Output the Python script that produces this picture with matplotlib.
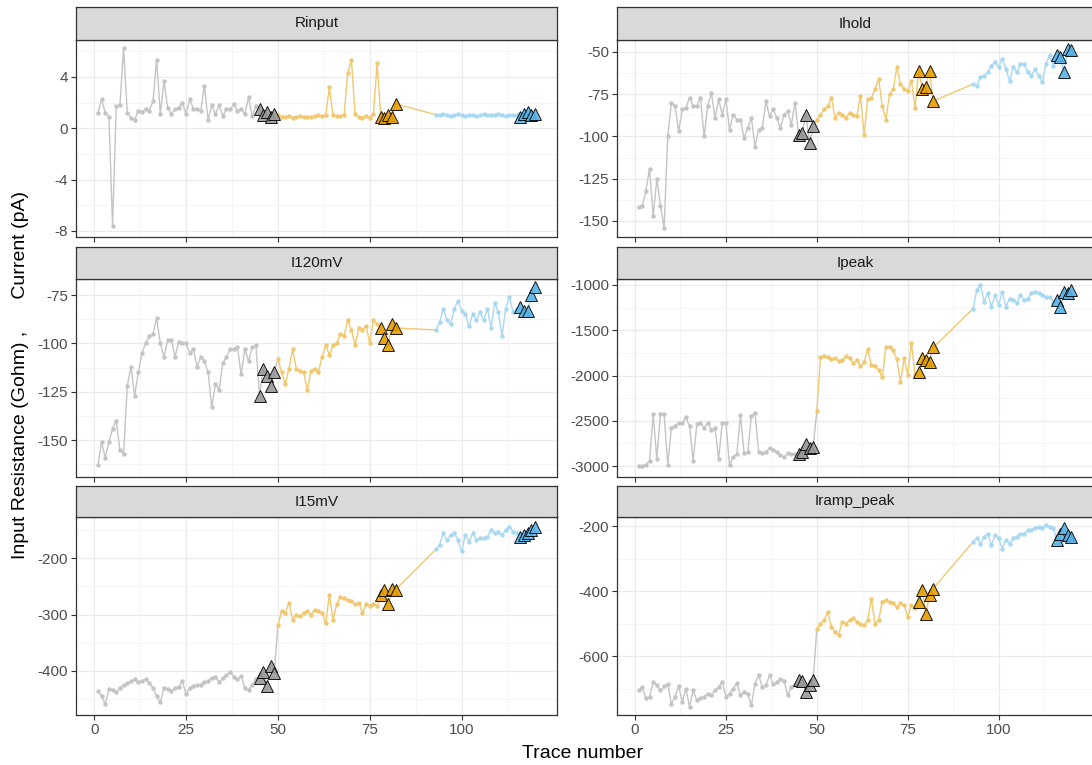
import matplotlib
matplotlib.use('Agg')
import matplotlib.pyplot as plt
import numpy as np

plt.rcParams['font.family'] = ['Liberation Sans', 'DejaVu Sans']
plt.rcParams['axes.unicode_minus'] = False

# trace numbers for each recording condition
trace_gray = np.arange(1, 50)
trace_orange = np.arange(50, 83)
trace_blue = np.arange(93, 121)

panel_names = ['Rinput', 'Ihold', 'I120mV', 'Ipeak', 'I15mV', 'Iramp_peak']

rinput_gray = [1.2, 2.3, 1.2, 0.9, -7.6, 1.7, 1.8, 6.25, 1.2, 0.8, 0.65, 1.35, 1.25, 1.5, 1.35,
               2.1, 5.35, 1.1, 3.65, 1.6, 1.1, 1.5, 1.6, 2.0, 1.1, 2.25, 1.5, 1.5, 1.35, 3.3,
               0.65, 1.8, 1.1, 1.8, 0.95, 1.5, 1.5, 1.85, 1.35, 1.5, 1.1, 2.4, 0.95, 1.7,
               1.5, 1.0, 1.3, 0.9, 1.1]
rinput_orange = [1.0, 0.85, 0.9, 0.95, 0.8, 0.9, 0.95, 0.9, 0.85, 0.9, 0.95, 1.0, 0.95, 1.0, 3.2,
                 1.0, 0.95, 0.95, 1.0, 4.3, 5.35, 1.1, 0.9, 0.8, 0.95, 0.8, 1.1, 5.1,
                 0.9, 0.8, 1.0, 0.85, 1.9]
rinput_blue = [1.05, 1.0, 1.1, 1.05, 0.95, 1.0, 1.1, 1.0, 0.95, 1.05, 1.0, 0.95, 1.0, 1.1, 1.05,
               1.0, 1.05, 1.1, 1.0, 0.95, 1.05, 1.0, 1.05,
               0.9, 1.1, 1.3, 1.0, 1.1]

ihold_gray = [-142, -141, -132, -119, -147, -125, -141, -154, -100, -80, -82, -97, -84, -83, -77,
              -82, -82, -77, -100, -82, -74, -89, -78, -87, -78, -96, -87, -90, -90, -101,
              -95, -89, -106, -96, -95, -79, -88, -84, -89, -95, -87, -85, -93, -80,
              -99, -98, -87, -104, -94]
ihold_orange = [-90, -87, -84, -82, -77, -89, -86, -87, -89, -86, -87, -88, -76, -99, -78,
                -77, -72, -66, -82, -90, -75, -72, -59, -69, -72, -73, -67, -83,
                -61, -72, -71, -61, -79]
ihold_blue = [-69, -70, -65, -64, -62, -58, -56, -59, -54, -60, -67, -59, -62, -57, -57,
              -62, -64, -60, -64, -68, -57, -52, -58,
              -52, -53, -62, -48, -49]

i120_gray = [-163, -151, -159, -151, -144, -140, -155, -157, -122, -112, -127, -115, -105, -100, -96,
             -95, -87, -100, -107, -98, -98, -107, -99, -100, -100, -105, -103, -112, -107, -109,
             -115, -133, -121, -124, -110, -107, -103, -103, -102, -116, -103, -109, -102, -101,
             -127, -113, -117, -122, -115]
i120_orange = [-108, -115, -121, -113, -103, -113, -114, -115, -124, -114, -113, -115, -107, -101, -106,
               -101, -100, -95, -96, -88, -93, -101, -92, -93, -91, -100, -88, -90,
               -92, -97, -101, -90, -92]
i120_blue = [-93, -89, -82, -88, -90, -82, -78, -83, -85, -91, -85, -88, -84, -88, -82,
             -92, -79, -84, -96, -82, -76, -84, -82,
             -81, -83, -83, -75, -71]

ipeak_gray = [-3005, -3005, -2985, -2940, -2430, -2920, -2420, -2420, -2990, -2580, -2560, -2520, -2530, -2460, -2560,
              -2940, -2540, -2520, -2580, -2520, -2600, -2580, -2920, -2520, -2530, -2990, -2900, -2870, -2440, -2860,
              -2850, -2450, -2410, -2840, -2860, -2850, -2800, -2820, -2850, -2880, -2900, -2860, -2870, -2870,
              -2870, -2850, -2760, -2800, -2790]
ipeak_orange = [-2390, -1800, -1790, -1800, -1820, -1810, -1840, -1830, -1790, -1810, -1860, -1830, -1900, -1850, -1710,
                -1880, -1890, -1940, -2020, -1680, -1690, -1720, -1820, -2070, -1810, -1990, -1640, -1980,
                -1960, -1810, -1830, -1850, -1690]
ipeak_blue = [-1260, -1055, -1000, -1185, -1090, -1240, -1110, -1220, -1075, -1240, -1150, -1165, -1200, -1110, -1165,
              -1150, -1090, -1075, -1090, -1110, -1130, -1130, -1185,
              -1165, -1240, -1075, -1090, -1055]

i15_gray = [-435, -445, -459, -432, -433, -438, -430, -425, -422, -418, -415, -420, -417, -415, -421,
            -430, -445, -455, -430, -432, -435, -430, -428, -418, -441, -430, -427, -425, -424, -420,
            -418, -412, -410, -420, -413, -407, -402, -410, -415, -408, -430, -433, -425, -415,
            -412, -402, -426, -391, -403]
i15_orange = [-319, -294, -297, -279, -309, -300, -303, -297, -294, -300, -291, -294, -297, -315, -265,
              -309, -282, -268, -271, -274, -276, -282, -279, -297, -282, -284, -282, -285,
              -265, -256, -281, -255, -256]
i15_blue = [-184, -176, -156, -168, -159, -156, -168, -188, -159, -171, -156, -168, -165, -165, -162,
            -150, -156, -153, -159, -150, -144, -153, -156,
            -162, -159, -156, -150, -144]

iramp_gray = [-705, -696, -730, -725, -679, -690, -705, -693, -685, -746, -725, -692, -740, -700, -756,
              -705, -736, -730, -725, -715, -720, -705, -695, -679, -725, -715, -700, -684, -720, -710,
              -715, -751, -685, -658, -695, -690, -658, -685, -680, -670, -675, -720, -695, -690,
              -674, -676, -710, -690, -674]
iramp_orange = [-515, -500, -489, -464, -510, -525, -535, -494, -500, -489, -484, -494, -500, -505, -489,
                -423, -500, -489, -433, -428, -433, -438, -448, -438, -443, -479, -443, -453,
                -433, -397, -469, -412, -392]
iramp_blue = [-248, -238, -254, -233, -223, -259, -228, -238, -269, -243, -254, -238, -233, -223, -223,
              -212, -212, -207, -202, -207, -197, -202, -207,
              -243, -223, -207, -228, -233]

panel_data = [
	(rinput_gray, rinput_orange, rinput_blue),
	(ihold_gray, ihold_orange, ihold_blue),
	(i120_gray, i120_orange, i120_blue),
	(ipeak_gray, ipeak_orange, ipeak_blue),
	(i15_gray, i15_orange, i15_blue),
	(iramp_gray, iramp_orange, iramp_blue),
]

panel_ylims = [(-8.47, 6.87), (-159.5, -42.9), (-169, -66.7), (-3121, -934), (-478, -127), (-781, -172)]
panel_yticks = [[-8, -4, 0, 4], [-150, -125, -100, -75, -50], [-150, -125, -100, -75],
                [-3000, -2500, -2000, -1500, -1000], [-400, -300, -200], [-600, -400, -200]]

seg_colors = ['#999999', '#E69F00', '#56B4E9']
line_colors = ['#c4c4c4', '#f0c870', '#a8d8f2']

W, H = 1092, 765
fig = plt.figure(figsize=(W / 100, H / 100), dpi=100)

col_x = [(76, 557), (617, 1093)]
row_y = [(7, 40, 237), (247, 279, 477), (486, 517, 715)]

for i, name in enumerate(panel_names):
	r, c = divmod(i, 2)
	x0, x1 = col_x[c]
	s0, p0, p1 = row_y[r]
	ax = fig.add_axes([x0 / W, 1 - p1 / H, (x1 - x0) / W, (p1 - p0) / H])
	sax = fig.add_axes([x0 / W, 1 - p0 / H, (x1 - x0) / W, (p0 - s0) / H])

	gray, orange, blue = panel_data[i]
	segs = [(trace_gray, gray), (trace_orange, orange), (trace_blue, blue)]
	for k, (tx, ty) in enumerate(segs):
		lx, ly = list(tx), list(ty)
		if k < 2:
			# ggplot path carries on to the first trace of the next condition
			lx.append(segs[k + 1][0][0])
			ly.append(segs[k + 1][1][0])
		ax.plot(lx, ly, color=line_colors[k], lw=1.0, zorder=2)
		ax.plot(tx[:-5], ty[:-5], 'o', color=line_colors[k], ms=3.2, mec='none', zorder=3)
		ax.plot(tx[-5:], ty[-5:], '^', color=seg_colors[k], ms=8.5, mec='black', mew=0.7,
		        alpha=0.9, zorder=4)

	ax.set_xlim(-4.95, 125.95)
	ax.set_xticks([0, 25, 50, 75, 100])
	ax.set_xticks([12.5, 37.5, 62.5, 87.5, 112.5], minor=True)
	yt = panel_yticks[i]
	step = yt[1] - yt[0]
	ax.set_yticks(yt)
	ax.set_yticks(np.arange(yt[0] - step / 2, yt[-1] + step, step), minor=True)
	ax.set_ylim(*panel_ylims[i])
	ax.grid(which='major', color='#ebebeb', lw=0.9, zorder=0)
	ax.grid(which='minor', color='#f4f4f4', lw=0.6, zorder=0)
	ax.set_axisbelow(True)
	ax.tick_params(which='minor', length=0)
	ax.tick_params(which='major', length=3.5, width=0.8, color='#333333', labelcolor='#4d4d4d',
	               labelsize=11, pad=2)
	if r < 2:
		ax.tick_params(axis='x', labelbottom=False)
	for sp in ax.spines.values():
		sp.set_color('#333333')
		sp.set_linewidth(0.9)

	sax.set_facecolor('#d9d9d9')
	sax.set_xticks([])
	sax.set_yticks([])
	for sp in sax.spines.values():
		sp.set_color('#333333')
		sp.set_linewidth(0.9)
	sax.text(0.5, 0.5, name, ha='center', va='center', fontsize=11, color='#1a1a1a',
	         transform=sax.transAxes)

fig.text(583 / W, 1 - 753 / H, 'Trace number', ha='center', va='center', fontsize=14)
fig.text(21 / W, 1 - 375 / H, 'Input Resistance (Gohm) ,      Current (pA)', ha='center', va='center',
         rotation=90, fontsize=14)

fig.savefig('out.png', dpi=100)
